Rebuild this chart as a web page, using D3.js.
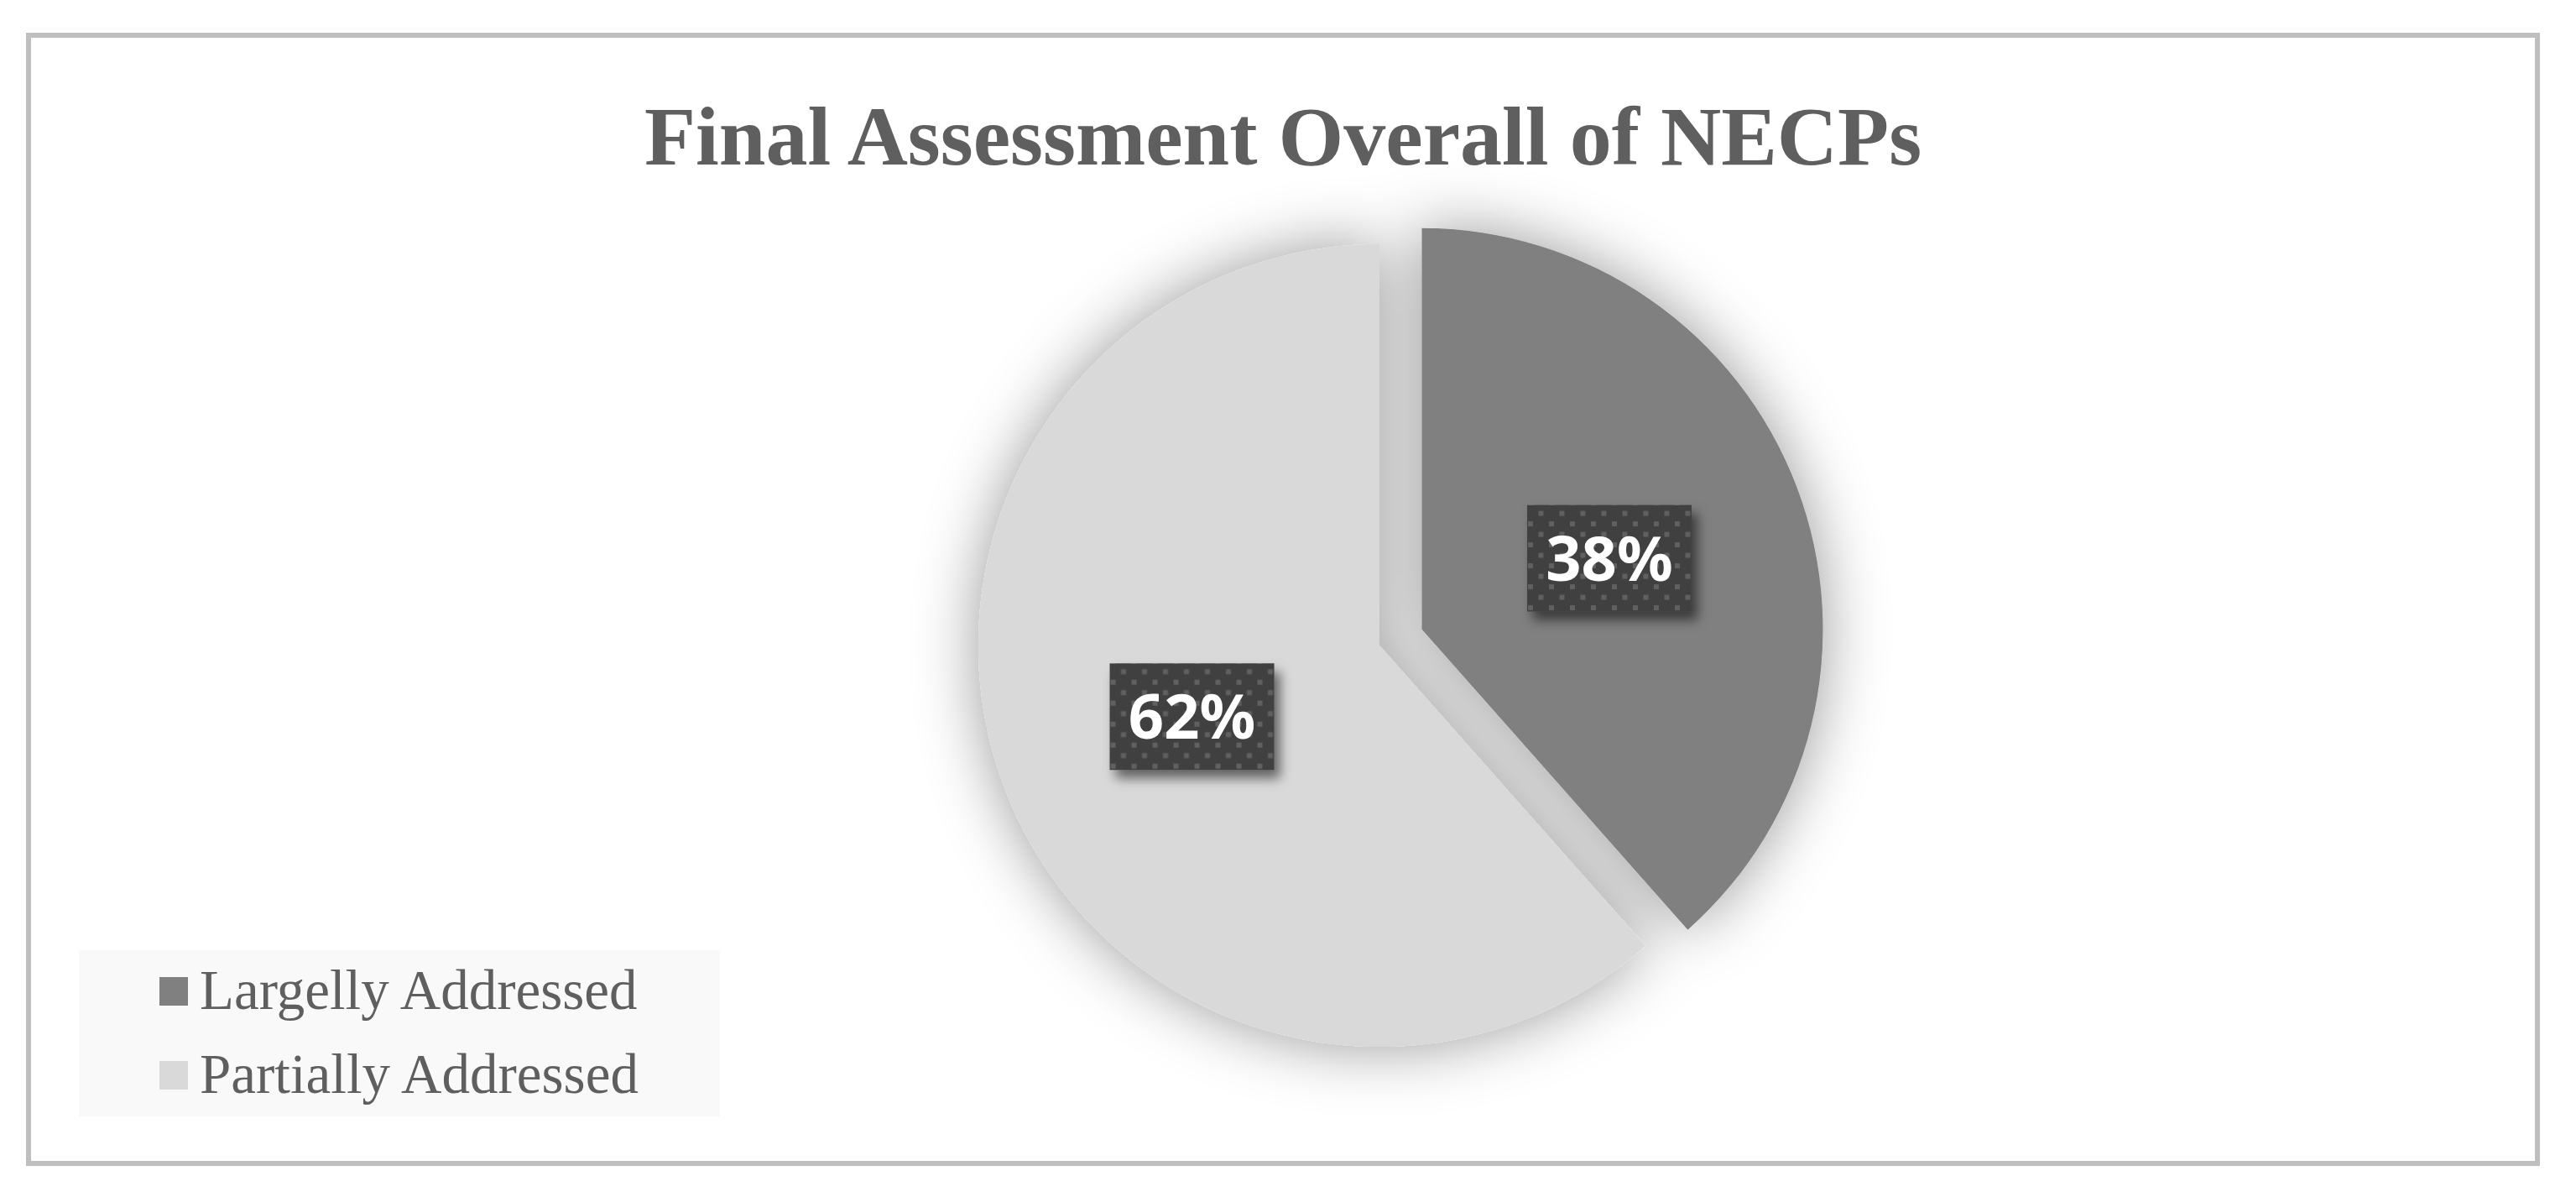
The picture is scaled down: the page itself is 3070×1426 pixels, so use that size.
<!DOCTYPE html>
<html>
<head>
<meta charset="utf-8">
<script src="https://cdn.jsdelivr.net/npm/d3@7"></script>
<style>
  html, body { margin: 0; padding: 0; background: #fff; }
  svg { display: block; }
</style>
</head>
<body>
<svg id="chart"></svg>
<script>
// data
const title = "Final Assessment Overall of NECPs";
const categories = ["Largelly Addressed", "Partially Addressed"];
const values = [10, 16];
const sliceColors = ["#808080", "#d9d9d9"];

const width = 3070;
const height = 1426;

const svg = d3.select("#chart")
    .attr("width", width)
    .attr("height", height);

const defs = svg.append("defs");

// soft shadow round the pie
const pieShadow = defs.append("filter").attr("id", "pieShadow")
    .attr("x", "-30%").attr("y", "-30%").attr("width", "160%").attr("height", "160%");
pieShadow.append("feDropShadow")
    .attr("dx", 0).attr("dy", 0)
    .attr("stdDeviation", 38)
    .attr("flood-color", "#000").attr("flood-opacity", 0.4);

// shadow under the data labels
const labelShadow = defs.append("filter").attr("id", "labelShadow")
    .attr("x", "-30%").attr("y", "-30%").attr("width", "160%").attr("height", "160%");
labelShadow.append("feDropShadow")
    .attr("dx", 7).attr("dy", 10)
    .attr("stdDeviation", 7)
    .attr("flood-color", "#000").attr("flood-opacity", 0.55);

// dotted fill of the label boxes
const dots = defs.append("pattern").attr("id", "dots")
    .attr("patternUnits", "userSpaceOnUse")
    .attr("width", 25).attr("height", 25);
dots.append("rect").attr("width", 25).attr("height", 25).attr("fill", "#404040");
dots.append("rect").attr("x", 3).attr("y", 6).attr("width", 6).attr("height", 6).attr("fill", "#606060");
dots.append("rect").attr("x", 15.5).attr("y", 18.5).attr("width", 6).attr("height", 6).attr("fill", "#606060");

// outer frame
svg.append("rect")
    .attr("x", 34).attr("y", 42)
    .attr("width", 2990).attr("height", 1344)
    .attr("fill", "#fff")
    .attr("stroke", "#bfbfbf")
    .attr("stroke-width", 6);

svg.append("text")
    .attr("x", 1529).attr("y", 196)
    .attr("text-anchor", "middle")
    .style("font-family", "'Liberation Serif', 'Times New Roman', serif")
    .style("font-weight", "bold")
    .style("font-size", "100px")
    .attr("fill", "#5f5f5f")
    .text(title);

// pie
const cx = 1644, cy = 769, r = 478;
const explode = [54, 0];

const pie = d3.pie().sort(null).value(d => d);
const arcs = pie(values);
const arc = d3.arc().innerRadius(0).outerRadius(r);
const total = d3.sum(values);

const shift = (d, i) => {
  const a = (d.startAngle + d.endAngle) / 2;
  return [Math.sin(a) * explode[i], -Math.cos(a) * explode[i]];
};

const g = svg.append("g").attr("transform", `translate(${cx},${cy})`);

g.append("g")
    .attr("filter", "url(#pieShadow)")
  .selectAll("path")
  .data(arcs)
  .enter().append("path")
    .attr("transform", (d, i) => `translate(${shift(d, i)})`)
    .attr("d", arc)
    .attr("fill", (d, i) => sliceColors[i]);

// labels at half radius along the bisector
const boxW = 196, boxH = 127;
const label = g.selectAll("g.lbl")
  .data(arcs)
  .enter().append("g")
    .attr("class", "lbl")
    .attr("transform", (d, i) => {
      const a = (d.startAngle + d.endAngle) / 2;
      const s = shift(d, i);
      return `translate(${s[0] + Math.sin(a) * r * 0.5},${s[1] - Math.cos(a) * r * 0.5})`;
    });

label.append("rect")
    .attr("x", -boxW / 2).attr("y", -boxH / 2)
    .attr("width", boxW).attr("height", boxH)
    .attr("fill", "url(#dots)")
    .attr("filter", "url(#labelShadow)");

label.append("text")
    .attr("text-anchor", "middle")
    .attr("dy", "0.36em")
    .style("font-family", "'Noto Sans', 'Open Sans', sans-serif")
    .style("font-weight", "bold")
    .style("font-size", "74px")
    .attr("fill", "#fff")
    .text(d => Math.round(d.value / total * 100) + "%");

// legend
const legend = svg.append("g");
legend.append("rect")
    .attr("x", 94).attr("y", 1132)
    .attr("width", 764).attr("height", 198)
    .attr("fill", "#f9f9f9");

const item = legend.selectAll("g.item")
  .data(categories)
  .enter().append("g")
    .attr("class", "item")
    .attr("transform", (d, i) => `translate(190,${1164 + i * 100})`);

item.append("rect")
    .attr("width", 34).attr("height", 34)
    .attr("fill", (d, i) => sliceColors[i]);

item.append("text")
    .attr("x", 48).attr("y", 38)
    .style("font-family", "'Liberation Serif', 'Times New Roman', serif")
    .style("font-size", "67px")
    .attr("fill", "#5f5f5f")
    .text(d => d);
</script>
</body>
</html>
